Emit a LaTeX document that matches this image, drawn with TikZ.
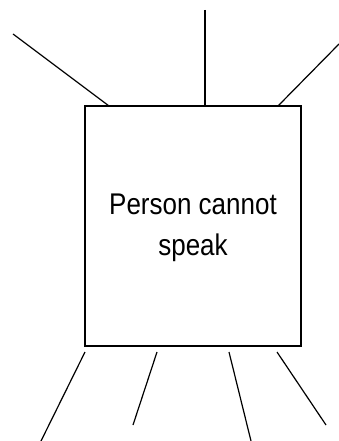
\documentclass[tikz,border=0pt]{standalone}
\usepackage{fontspec}
\setmainfont{Liberation Sans}
\begin{document}
\begin{tikzpicture}[x=1pt,y=-1pt,
  ln/.style={line width=1.2pt, black},
  box/.style={draw, line width=1.2pt, minimum width=216pt, minimum height=240pt, inner sep=0pt}]
\useasboundingbox (0,0) rectangle (339,441);
\node[box] (b) at (193,226) {};
\node[align=center, font=\fontsize{26}{41}\selectfont] (t) at (193,228) {\scalebox{1}[1.15]{Person cannot}\\\scalebox{1}[1.15]{speak}};
\coordinate (tl1) at (13,34);  \coordinate (tl2) at (109,106);
\coordinate (tm1) at (205,10); \coordinate (tm2) at (205,106);
\coordinate (tr1) at (339,44); \coordinate (tr2) at (278,106);
\coordinate (b1a) at (85,352); \coordinate (b1b) at (41,441);
\coordinate (b2a) at (157,352); \coordinate (b2b) at (133,425);
\coordinate (b3a) at (229,352); \coordinate (b3b) at (251,441);
\coordinate (b4a) at (277,352); \coordinate (b4b) at (326,425);
\draw[ln] (tl1) -- (tl2);
\draw[ln] (tm1) -- (tm2);
\draw[ln] (tr1) -- (tr2);
\draw[ln] (b1a) -- (b1b);
\draw[ln] (b2a) -- (b2b);
\draw[ln] (b3a) -- (b3b);
\draw[ln] (b4a) -- (b4b);
\end{tikzpicture}
\end{document}
